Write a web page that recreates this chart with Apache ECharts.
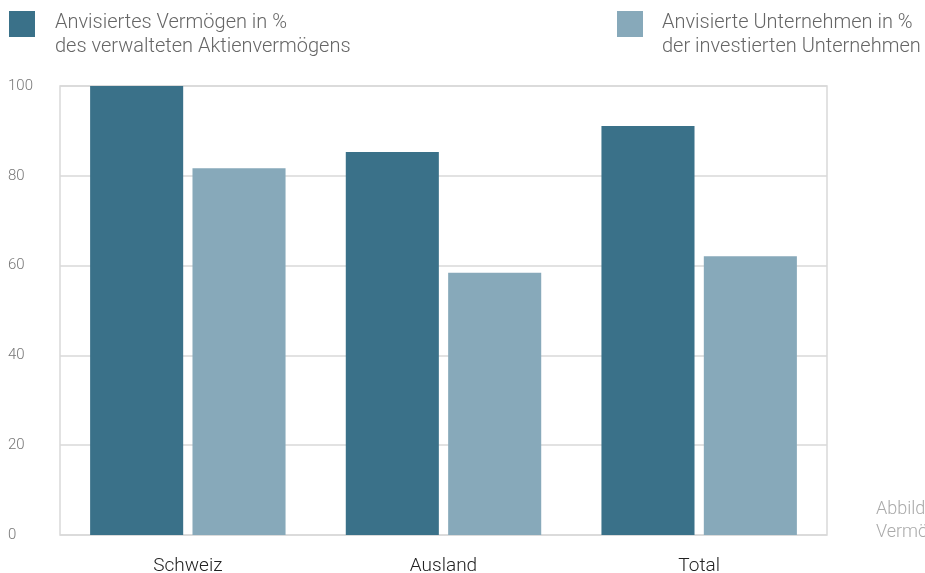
<!DOCTYPE html>
<html><head><meta charset="utf-8">
<script src="https://cdn.jsdelivr.net/npm/echarts@6/dist/echarts.min.js"></script>
<style>html,body{margin:0;padding:0;background:#fff}#c{width:925px;height:573px}</style>
</head><body><div id="c"></div>
<script>
const categories = ['Schweiz', 'Ausland', 'Total'];
const seriesNames = ['Anvisiertes Vermögen in %\ndes verwalteten Aktienvermögens', 'Anvisierte Unternehmen in %\nder investierten Unternehmen'];
const vermoegen = [100, 85.3, 91.1];
const unternehmen = [81.7, 58.4, 62.1];
const yTicks = [0, 20, 40, 60, 80, 100];
const captionLines = ['Abbild', 'Vermö'];

const dark = '#3a7189';
const light = '#87a9ba';
const font = 'Roboto, "Liberation Sans", sans-serif';

const chart = echarts.init(document.getElementById('c'), null, {renderer: 'canvas'});
chart.setOption({
  animation: false,
  backgroundColor: '#fff',
  grid: {left: 60, right: 98, top: 86, bottom: 38, show: true, borderColor: '#d9d9d9', borderWidth: 1.5, containLabel: false, outerBoundsMode: 'none'},
  xAxis: {
    type: 'category', data: categories,
    axisLine: {show: false}, axisTick: {show: false},
    axisLabel: {color: '#222', fontSize: 19, fontFamily: font, fontWeight: 300, margin: 22}
  },
  yAxis: {
    type: 'value', min: yTicks[0], max: yTicks[yTicks.length - 1], interval: 20,
    axisLine: {show: false}, axisTick: {show: false},
    splitLine: {lineStyle: {color: '#d9d9d9', width: 1.5}},
    axisLabel: {color: '#777', fontSize: 15, fontFamily: font, fontWeight: 300, align: 'left', margin: 52}
  },
  series: [
    {name: seriesNames[0], type: 'bar', data: vermoegen, itemStyle: {color: dark}, barWidth: '36.4%', barGap: '10%'},
    {name: seriesNames[1], type: 'bar', data: unternehmen, itemStyle: {color: light}, barWidth: '36.4%', barGap: '10%'}
  ],
  graphic: [
    {type: 'rect', left: 9, top: 11, shape: {width: 26, height: 26}, style: {fill: dark}},
    {type: 'text', left: 55, top: 11, style: {text: seriesNames[0], fill: '#666', font: '300 20px ' + font, lineHeight: 24}},
    {type: 'rect', left: 617, top: 11, shape: {width: 26, height: 26}, style: {fill: light}},
    {type: 'text', left: 662, top: 11, style: {text: seriesNames[1], fill: '#666', font: '300 20px ' + font, lineHeight: 24}},
    {type: 'text', left: 876, top: 498, style: {text: captionLines.join('\n'), fill: '#aaa', font: '300 18px ' + font, lineHeight: 23}}
  ]
});
</script></body></html>
